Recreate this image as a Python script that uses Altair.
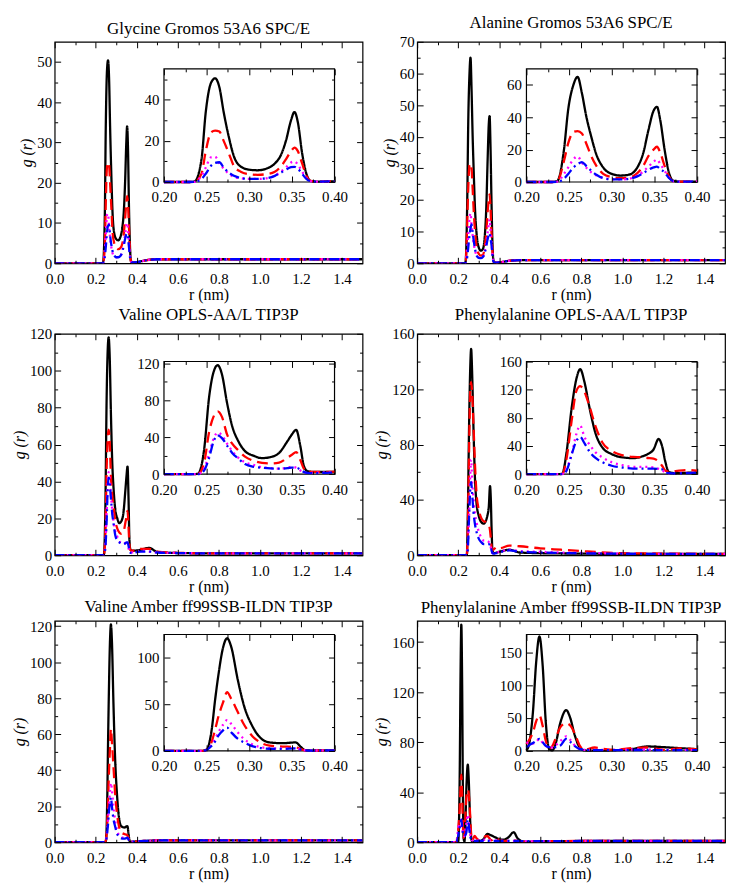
import altair as alt
import pandas as pd

FONT = "Liberation Serif, Times New Roman, Times, serif"
W, H = 310, 223

panel_titles = [
    "Glycine Gromos 53A6 SPC/E",
    "Alanine Gromos 53A6 SPC/E",
    "Valine OPLS-AA/L TIP3P",
    "Phenylalanine OPLS-AA/L TIP3P",
    "Valine Amber ff99SSB-ILDN TIP3P",
    "Phenylalanine Amber ff99SSB-ILDN TIP3P",
]

# ---------------- data ----------------
p1_r = [0.0, 0.20, 0.23, 0.236, 0.244, 0.249, 0.255, 0.260, 0.265, 0.270, 0.276, 0.282, 0.290, 0.300, 0.310, 0.320, 0.330,
        0.337, 0.343, 0.349, 0.353, 0.357, 0.362, 0.367, 0.372, 0.380, 0.400, 0.450, 0.500, 0.600, 0.800, 1.000, 1.200, 1.500]
p1_black = [0, 0, 0, 0.3, 11, 34, 48, 50.4, 46, 34, 22, 12.5, 7.5, 6, 5.7, 6.5, 9, 13, 20, 30, 34, 29, 14, 4, 0.5, 0.2, 0.3, 0.8, 1, 1, 1, 1, 1, 1]
p1_red = [0, 0, 0, 0.2, 4, 15, 24, 25, 24.5, 20, 14, 7.8, 5, 3.8, 3.5, 3.8, 5, 7.5, 11, 15, 16.7, 15, 9, 3, 0.5, 0.2, 0.3, 0.8, 1, 1, 1, 1, 1, 1]
p1_magenta = [0, 0, 0, 0.1, 3, 7, 12, 12.3, 9, 6.5, 4, 2.5, 1.8, 1.5, 1.5, 1.8, 3, 5, 7, 9.5, 10, 8.5, 5, 2, 0.4, 0.2, 0.3, 0.8, 1, 1, 1, 1, 1, 1]
p1_blue = [0, 0, 0, 0.1, 1.5, 4, 7.8, 9.3, 9.6, 7, 4.6, 3, 2, 1.5, 1.5, 1.8, 3, 4.5, 6, 7.2, 7.4, 6.5, 4, 1.5, 0.4, 0.2, 0.3, 0.8, 1, 1, 1, 1, 1, 1]

p2_r = [0.0, 0.20, 0.23, 0.236, 0.244, 0.249, 0.255, 0.260, 0.265, 0.270, 0.276, 0.282, 0.290, 0.300, 0.310, 0.320, 0.330,
        0.337, 0.343, 0.349, 0.353, 0.357, 0.362, 0.367, 0.372, 0.380, 0.400, 0.450, 0.500, 0.600, 0.800, 1.000, 1.200, 1.500]
p2_black = [0, 0, 0, 0.5, 20, 45, 60, 65, 55, 41, 28, 17, 9, 5, 4, 4.5, 9, 18, 32, 44, 46.5, 38, 20, 6, 0.8, 0.2, 0.3, 0.8, 1, 1, 1, 1, 1, 1]
p2_red = [0, 0, 0, 0.3, 13, 24, 31, 31.5, 30, 24, 16, 10, 5, 3, 2.4, 2.6, 5.5, 10, 16, 20, 21.8, 18, 10, 3.5, 0.5, 0.2, 0.3, 0.8, 1, 1, 1, 1, 1, 1]
p2_magenta = [0, 0, 0, 0.2, 5, 9, 14, 15.8, 12, 9, 6, 4, 2.5, 1.8, 1.6, 2, 4, 6.5, 9.5, 12.5, 13.9, 11, 7, 3, 0.5, 0.2, 0.3, 0.8, 1, 1, 1, 1, 1, 1]
p2_blue = [0, 0, 0, 0.1, 2, 5, 8.9, 11, 12.3, 10, 7, 4.5, 2.4, 1.7, 1.6, 2, 3.5, 5.5, 7.5, 9, 9.5, 8, 5.9, 2.5, 0.5, 0.2, 0.3, 0.8, 1, 1, 1, 1, 1, 1]

p3_r = [0.0, 0.20, 0.235, 0.240, 0.247, 0.253, 0.258, 0.263, 0.268, 0.274, 0.280, 0.287, 0.295, 0.305, 0.315, 0.325, 0.335,
        0.345, 0.350, 0.355, 0.360, 0.364, 0.368, 0.375, 0.390, 0.400, 0.420, 0.460, 0.500, 0.600, 0.800, 1.000, 1.200, 1.500]
p3_black = [0, 0, 0, 0.5, 26, 84, 110, 118, 108, 77, 52, 36, 25, 20, 17.4, 18.5, 23, 36, 43, 48, 30, 9, 3.5, 2.5, 2.5, 2.6, 3, 4, 1.8, 1.2, 1, 1, 1, 1]
p3_red = [0, 0, 0, 0.3, 12, 46, 62, 68, 62, 43, 33, 26, 19, 14.5, 12.3, 11.6, 12.5, 18, 21, 24, 15, 6, 3, 2.5, 2.5, 2.8, 3.5, 3.5, 2, 1.3, 1, 1, 1, 1]
p3_magenta = [0, 0, 0, 0.2, 6, 22, 38, 45, 42, 33, 25, 18, 13, 10, 7.5, 6.5, 6, 7, 8, 7, 4, 2, 1.5, 1.5, 2, 2.2, 2.5, 2, 1.5, 1.2, 1, 1, 1, 1]
p3_blue = [0, 0, 0, 0.1, 4, 18, 35, 42, 39, 31, 23, 17, 11, 8, 7, 6.3, 6, 6.5, 7, 7, 5, 2.5, 1.5, 1.2, 1.5, 1.7, 2, 2, 1.5, 1.2, 1, 1, 1, 1]

p4_r = [0.0, 0.20, 0.235, 0.242, 0.247, 0.253, 0.2585, 0.263, 0.268, 0.274, 0.281, 0.289, 0.300, 0.312, 0.325, 0.335, 0.342,
        0.349, 0.355, 0.359, 0.363, 0.367, 0.375, 0.388, 0.400, 0.450, 0.500, 0.600, 0.700, 0.800, 1.000, 1.200, 1.500]
p4_black = [0, 0, 0, 0.5, 31, 94, 135, 149, 131, 94, 58, 38, 28.5, 24, 22.8, 25, 28.5, 35, 50, 40, 17, 3, 1.5, 2, 2.5, 4, 2, 1.5, 1.3, 1.2, 1, 1, 1]
p4_red = [0, 0, 0, 0.3, 22, 76, 118, 125, 117, 96, 68, 45, 33, 27, 24.5, 24, 23, 22, 18, 12, 5, 3.6, 4.5, 5.9, 5, 7, 6.5, 5, 4, 3, 1.5, 1.2, 1]
p4_magenta = [0, 0, 0, 0.2, 8, 28, 57, 69, 53, 42, 31, 24, 17, 13, 10.5, 10.4, 10.4, 9.5, 7.5, 5.5, 2.5, 1.5, 1.5, 2, 2.5, 4, 3, 2.5, 2, 1.8, 1.2, 1, 1]
p4_blue = [0, 0, 0, 0.1, 5, 28, 47, 53, 44, 32, 23, 17, 12, 9.5, 8, 8, 8, 8, 7.5, 7, 3, 1.5, 1.2, 1.5, 2, 3.5, 2.5, 2, 1.6, 1.4, 1.1, 1, 1]

p5_r = [0.0, 0.20, 0.245, 0.250, 0.256, 0.260, 0.2636, 0.2693, 0.274, 0.2788, 0.2864, 0.294, 0.3034, 0.313, 0.324, 0.339,
        0.3545, 0.360, 0.366, 0.375, 0.400, 0.450, 0.500, 0.600, 0.800, 1.000, 1.200, 1.500]
p5_black = [0, 0, 0, 1, 23, 55, 80, 111, 121, 112, 77, 48, 27, 14, 9, 8.2, 9, 4.6, 0.5, 0.3, 0.5, 0.8, 1, 1, 1, 1, 1, 1]
p5_red = [0, 0, 0, 1.5, 10, 23, 36, 52, 63, 56, 42, 28, 16, 9, 5.5, 4.6, 3.8, 2, 0.5, 0.3, 0.5, 0.8, 1, 1, 1, 1, 1, 1]
p5_magenta = [0, 0, 0, 1, 7, 13, 19.6, 28, 33, 29, 20, 12.5, 7, 4, 2.8, 2.5, 2.5, 1.5, 0.5, 0.3, 0.5, 0.8, 1, 1, 1, 1, 1, 1]
p5_blue = [0, 0, 0, 1, 5.4, 10, 16, 22, 25, 20, 13, 9, 5, 3, 2.2, 2, 2.5, 1.5, 0.5, 0.3, 0.5, 0.8, 1, 1, 1, 1, 1, 1]

p6_r = [0.0, 0.190, 0.196, 0.200, 0.2038, 0.2076, 0.2114, 0.2152, 0.219, 0.2227, 0.2265, 0.2303, 0.234, 0.2398, 0.2466,
        0.2511, 0.2568, 0.2625, 0.2682, 0.280, 0.290, 0.304, 0.323, 0.342, 0.361, 0.380, 0.400, 0.420, 0.445, 0.470,
        0.490, 0.520, 0.600, 0.800, 1.000, 1.200, 1.500]
p6_black = [0, 0, 0, 0.5, 15, 59, 135, 174, 130, 43, 3, 0.5, 10, 43, 62, 51, 23, 5, 0.5, 0.3, 0.3, 0.8, 2.5, 6.6, 5.5, 4, 2.5, 2,
            4, 8, 3, 0.5, 0.8, 1, 1, 1, 1]
p6_red = [0, 0, 3, 10, 18, 28, 45, 54, 38, 15, 3.6, 7, 18, 36, 42, 39, 26, 8, 1.5, 5, 3, 1.5, 4, 5, 1.5, 3.6, 2, 1,
          1, 1.5, 1, 0.5, 0.8, 1, 1, 1, 1]
p6_magenta = [0, 0, 5, 12, 13, 11, 14, 18, 12, 7.6, 5.5, 5, 8, 15, 22, 17, 8, 3, 1.5, 1.5, 1.5, 1.5, 2, 2, 1.5, 1.5, 1, 1,
              1, 1, 1, 0.8, 0.8, 1, 1, 1, 1]
p6_blue = [0, 0, 2, 5, 9, 12, 15, 18, 13, 7.6, 5.5, 5, 5.5, 8, 18, 14, 7, 2.5, 1.5, 1, 1, 1, 1.2, 1.2, 1, 1, 1, 1,
           1, 1, 1, 0.8, 0.8, 1, 1, 1, 1]

panels_data = [
    (p1_r, [p1_black, p1_red, p1_magenta, p1_blue]),
    (p2_r, [p2_black, p2_red, p2_magenta, p2_blue]),
    (p3_r, [p3_black, p3_red, p3_magenta, p3_blue]),
    (p4_r, [p4_black, p4_red, p4_magenta, p4_blue]),
    (p5_r, [p5_black, p5_red, p5_magenta, p5_blue]),
    (p6_r, [p6_black, p6_red, p6_magenta, p6_blue]),
]

# axis ticks
main_xticks = [0.0, 0.2, 0.4, 0.6, 0.8, 1.0, 1.2, 1.4]
main_xminor = [0.1, 0.3, 0.5, 0.7, 0.9, 1.1, 1.3]
inset_xticks = [0.20, 0.25, 0.30, 0.35, 0.40]
inset_xminor = [0.225, 0.275, 0.325, 0.375]

main_ymax = [55, 70, 120, 160, 123, 177]
main_yticks = [
    [0, 10, 20, 30, 40, 50],
    [0, 10, 20, 30, 40, 50, 60, 70],
    [0, 20, 40, 60, 80, 100, 120],
    [0, 40, 80, 120, 160],
    [0, 20, 40, 60, 80, 100, 120],
    [0, 40, 80, 120, 160],
]
main_yminor = [
    [5, 15, 25, 35, 45],
    [5, 15, 25, 35, 45, 55, 65],
    [10, 30, 50, 70, 90, 110],
    [20, 60, 100, 140],
    [10, 30, 50, 70, 90, 110],
    [20, 60, 100, 140],
]
inset_ymax = [55, 70, 122, 160, 125, 177]
inset_yticks = [
    [0, 20, 40],
    [0, 20, 40, 60],
    [0, 40, 80, 120],
    [0, 40, 80, 120, 160],
    [0, 50, 100],
    [0, 50, 100, 150],
]
inset_yminor = [
    [10, 30, 50],
    [10, 30, 50],
    [20, 60, 100],
    [20, 60, 100, 140],
    [25, 75],
    [25, 75, 125],
]

# ---------------- styles ----------------
colors = ["#000000", "#ff0000", "#ff00ff", "#0000ff"]
dashes = [[1, 0], [11, 6], [2, 4], [10, 4, 2, 4]]
LW = 2.3
# inset box as fractions of plot area: left, right, top, bottom
inset_frac = [
    (0.355, 0.909, 0.122, 0.633),
    (0.355, 0.909, 0.122, 0.633),
    (0.355, 0.909, 0.125, 0.634),
    (0.355, 0.909, 0.125, 0.634),
    (0.355, 0.909, 0.062, 0.587),
    (0.355, 0.909, 0.062, 0.587),
]


def tick_axis(orient, offset, values, size):
    return alt.Axis(orient=orient, offset=offset, values=values, labels=False, domain=False,
                    grid=False, ticks=True, tickSize=size, tickWidth=1, tickColor="black",
                    title=None, zindex=1)


def tick_layers(pt, xsc, ysc, box, xmaj, xmin, ymaj, ymin):
    L, R, T, B = box
    out = []
    for xv, yv, size in ((xmaj, ymaj, 6), (xmin, ymin, 3)):
        out.append(alt.Chart(pt).mark_point(opacity=0).encode(
            x=alt.X("r:Q", scale=xsc, axis=tick_axis("top", -B, xv, size)),
            y=alt.Y("g:Q", scale=ysc, axis=tick_axis("right", L - W, yv, size)),
        ))
        out.append(alt.Chart(pt).mark_point(opacity=0).encode(
            x=alt.X("r:Q", scale=xsc, axis=tick_axis("bottom", T - H, xv, size)),
            y=alt.Y("g:Q", scale=ysc, axis=tick_axis("left", -R, yv, size)),
        ))
    return out


def make_panel(i):
    r, ys = panels_data[i]
    rows = []
    for k, vals in enumerate(ys):
        for rv, gv in zip(r, vals):
            rows.append({"r": rv, "g": gv, "s": k})
    df = pd.DataFrame(rows)

    # ---- main plot ----
    mx = alt.Scale(domain=[0, 1.5], nice=False, zero=False)
    my = alt.Scale(domain=[0, main_ymax[i]], nice=False)
    main_layers = []
    for k in range(4):
        if k == 0:
            xa = alt.Axis(orient="bottom", values=main_xticks, format=".1f", ticks=False, tickSize=0,
                          domain=False, grid=False, labelPadding=8, labelFlush=False, labelOverlap=False,
                          title="r (nm)", titlePadding=0, zindex=1)
            ya = alt.Axis(orient="left", values=main_yticks[i], format="d", ticks=False, tickSize=0,
                          domain=False, grid=False, labelPadding=3, labelOverlap=False,
                          title="g (r)", titleFontStyle="italic", titlePadding=2, zindex=1)
        else:
            xa = None
            ya = None
        main_layers.append(
            alt.Chart(df).transform_filter(alt.datum.s == k)
            .mark_line(color=colors[k], strokeDash=dashes[k], strokeWidth=LW, interpolate="monotone", clip=True)
            .encode(x=alt.X("r:Q", scale=mx, axis=xa), y=alt.Y("g:Q", scale=my, axis=ya), order="r:Q")
        )
    pt_main = pd.DataFrame({"r": [0.0], "g": [0.0]})
    main_layers += tick_layers(pt_main, mx, my, (0, W, 0, H), main_xticks, main_xminor,
                               main_yticks[i], main_yminor[i])
    main_group = alt.layer(*main_layers).resolve_axis(x="independent", y="independent")

    # ---- inset ----
    fl, fr, ft, fb = inset_frac[i]
    L, R, T, B = fl * W, fr * W, ft * H, fb * H
    ix = alt.Scale(domain=[0.2, 0.4], range=[L, R], nice=False, zero=False)
    iy = alt.Scale(domain=[0, inset_ymax[i]], range=[B, T], nice=False)
    frame = pd.DataFrame({"r": [0.2], "r2": [0.4], "g": [0], "g2": [inset_ymax[i]]})
    inset_layers = [
        alt.Chart(frame).mark_rect(fill="white", stroke="black", strokeWidth=1.2).encode(
            x=alt.X("r:Q", scale=ix, axis=alt.Axis(orient="bottom", offset=B - H, values=inset_xticks,
                                                   format=".2f", ticks=False, tickSize=0, domain=False,
                                                   grid=False, labelPadding=8, labelFlush=False,
                                                   labelOverlap=False, title=None, zindex=1)),
            x2="r2",
            y=alt.Y("g:Q", scale=iy, axis=alt.Axis(orient="left", offset=-L, values=inset_yticks[i],
                                                   format="d", ticks=False, tickSize=0, domain=False,
                                                   grid=False, labelPadding=5, labelOverlap=False,
                                                   title=None, zindex=1)),
            y2="g2",
        )
    ]
    for k in range(4):
        inset_layers.append(
            alt.Chart(df).transform_filter(alt.datum.s == k)
            .transform_filter(alt.FieldRangePredicate(field="r", range=[0.2, 0.4]))
            .mark_line(color=colors[k], strokeDash=dashes[k], strokeWidth=LW, interpolate="monotone")
            .encode(x=alt.X("r:Q", scale=ix, axis=None), y=alt.Y("g:Q", scale=iy, axis=None), order="r:Q")
        )
    pt_inset = pd.DataFrame({"r": [0.3], "g": [0.0]})
    inset_layers += tick_layers(pt_inset, ix, iy, (L, R, T, B), inset_xticks, inset_xminor,
                                inset_yticks[i], inset_yminor[i])
    inset_group = alt.layer(*inset_layers).resolve_axis(x="independent", y="independent")

    return (
        alt.layer(main_group, inset_group)
        .resolve_scale(x="independent", y="independent")
        .resolve_axis(x="independent", y="independent")
        .properties(
            width=W, height=H,
            title=alt.Title(panel_titles[i], font=FONT, fontSize=17, fontWeight="normal",
                            anchor="middle", frame="group", offset=3, color="black"),
        )
    )


chart = (
    alt.concat(*[make_panel(i) for i in range(6)], columns=2, spacing={"row": 2, "column": 8})
    .resolve_scale(x="independent", y="independent")
    .properties(padding={"left": 2, "top": 2, "right": 2, "bottom": 2})
    .configure_view(stroke="black", strokeWidth=1.2)
    .configure_axis(labelFont=FONT, labelFontSize=15, labelColor="black", titleFont=FONT,
                    titleFontSize=16, titleFontWeight="normal", titleColor="black")
)

chart.save("out.html", embed_options={"renderer": "svg", "actions": False})
